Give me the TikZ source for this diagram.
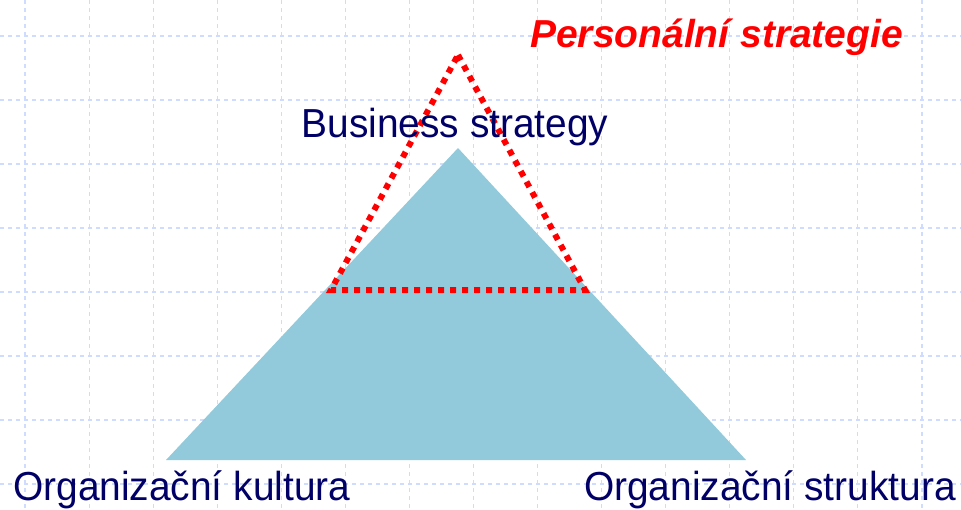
\documentclass[tikz,border=0pt]{standalone}
\usepackage{fontspec}
\setmainfont{Liberation Sans}
\newfontfamily\captionfont[FakeStretch = 0.96]{Liberation Sans}
\usetikzlibrary{positioning}
\definecolor{navytext}{RGB}{0,0,102}
\definecolor{pyramidblue}{RGB}{146,202,219}
\definecolor{gridblue}{RGB}{208,220,255}

\begin{document}
\begin{tikzpicture}[x = 1pt, y = -1pt,
  gridline/.style = {draw = gridblue, line width = 1.1pt, dash pattern = on 4pt off 4pt},
  caption/.style = {font = \captionfont\fontsize{40.5}{48}\selectfont, text = navytext, inner sep = 0pt},
  personal/.style = {draw = red, line width = 6pt, dash pattern = on 6pt off 6pt}]
\useasboundingbox (0,0) rectangle (961,509);
\foreach \gx in {0,...,14}
  \draw[gridline] ({25+64.07*\gx},0) -- ({25+64.07*\gx},509);
\foreach \gy in {0,...,7}
  \draw[gridline] (0,{36+64*\gy}) -- (961,{36+64*\gy});
\coordinate (apex) at (458,148);
\coordinate (culture) at (166,460);
\coordinate (structure) at (746,460);
\fill[pyramidblue] (apex) -- (structure) -- (culture) -- cycle;
\coordinate (ptop) at (458,55);
\coordinate (pleft) at (331,290);
\coordinate (pright) at (585,290);
\draw[personal] (ptop) -- (pright) -- (pleft) -- cycle;
\node[caption, above = 2pt of apex, xshift = -3pt] (business) {Business strategy};
\node[caption, anchor = base west] (kultura) at (13,500) {Organizační kultura};
\node[caption, anchor = base east] (struktura) at (956,500) {Organizační struktura};
\node[caption, anchor = base west, text = red, font = \fontsize{39}{47}\selectfont\bfseries\itshape] (strategie) at (530,47) {Personální strategie};
\end{tikzpicture}
\end{document}
